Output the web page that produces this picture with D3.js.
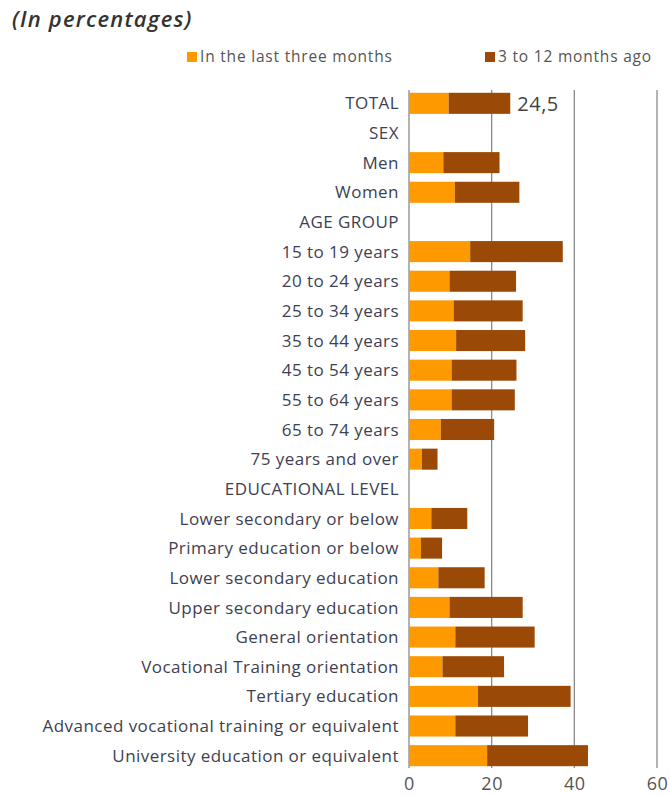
<!DOCTYPE html>
<html>
<head>
<meta charset="utf-8">
<script src="https://cdn.jsdelivr.net/npm/d3@7"></script>
<style>
  html, body { margin: 0; padding: 0; background: #fff; }
  svg { display: block; }
</style>
</head>
<body>
<svg id="chart" width="670" height="796"></svg>
<script>
// Row labels; group headings carry no bars
const categories = [
  "TOTAL", "SEX", "Men", "Women", "AGE GROUP",
  "15 to 19 years", "20 to 24 years", "25 to 34 years", "35 to 44 years",
  "45 to 54 years", "55 to 64 years", "65 to 74 years", "75 years and over",
  "EDUCATIONAL LEVEL", "Lower secondary or below", "Primary education or below",
  "Lower secondary education", "Upper secondary education", "General orientation",
  "Vocational Training orientation", "Tertiary education",
  "Advanced vocational training or equivalent", "University education or equivalent"
];
const lastThreeMonths = [
  9.6, null, 8.3, 11.1, null,
  14.8, 9.8, 10.8, 11.4, 10.3, 10.3, 7.7, 3.1,
  null, 5.4, 2.9, 7.1, 9.8, 11.2, 8.1, 16.7, 11.2, 18.9
];
const threeTo12MonthsAgo = [
  14.9, null, 13.6, 15.6, null,
  22.4, 16.1, 16.7, 16.7, 15.7, 15.3, 12.9, 3.8,
  null, 8.7, 5.1, 11.2, 17.7, 19.2, 14.9, 22.4, 17.6, 24.4
];
const seriesNames = ["In the last three months", "3 to 12 months ago"];
const seriesColors = ["#FF9900", "#9A4A06"];
const xTicks = [0, 20, 40, 60];
const labelledRow = "TOTAL";

const svg = d3.select("#chart");
const font = "'Open Sans', sans-serif";

const x = d3.scaleLinear().domain([0, 60]).range([409, 657]);
const y = d3.scaleBand().domain(categories).range([88.5, 770.5])
  .paddingInner(0.29).paddingOuter(0.145);

// Title
svg.append("text")
  .attr("x", 12).attr("y", 27)
  .attr("font-family", font).attr("font-size", 22)
  .attr("font-style", "italic").attr("font-weight", 600)
  .attr("letter-spacing", 1.2)
  .attr("fill", "#333").text("(In percentages)");

// Legend
const legendX = [187, 485];
seriesNames.forEach((name, i) => {
  svg.append("rect").attr("x", legendX[i]).attr("y", 52)
    .attr("width", 10).attr("height", 10).attr("fill", seriesColors[i]);
  svg.append("text").attr("x", legendX[i] + 13).attr("y", 62)
    .attr("font-family", font).attr("font-size", 15.5)
    .attr("letter-spacing", 0.8)
    .attr("fill", "#555").text(name);
});

// Vertical gridlines
svg.append("g").selectAll("line").data(xTicks).join("line")
  .attr("x1", d => x(d)).attr("x2", d => x(d))
  .attr("y1", 90).attr("y2", 768)
  .attr("stroke", "#8a8a8a").attr("stroke-width", 1.3);

// X axis tick labels
const xAxis = d3.axisBottom(x).tickValues(xTicks).tickSize(0).tickPadding(0);
const gx = svg.append("g").attr("transform", "translate(0,777)").call(xAxis);
gx.select(".domain").remove();
gx.selectAll("text")
  .attr("font-family", font).attr("font-size", 18)
  .attr("letter-spacing", 0.5)
  .attr("fill", "#555").attr("dy", "0.71em");

// Category labels
const yAxis = d3.axisLeft(y).tickSize(0).tickPadding(0);
const gy = svg.append("g").attr("transform", "translate(399,0)").call(yAxis);
gy.select(".domain").remove();
gy.selectAll("text")
  .attr("font-family", font).attr("font-size", 17)
  .attr("letter-spacing", 0.45)
  .attr("dy", "0.36em")
  .attr("fill", "#3e3f52");

// Stacked bars
const rows = categories.map((c, i) => ({
  cat: c, a: lastThreeMonths[i], b: threeTo12MonthsAgo[i]
})).filter(d => d.a != null);

const g = svg.append("g");
g.selectAll("rect.recent").data(rows).join("rect")
  .attr("class", "recent")
  .attr("x", x(0)).attr("y", d => y(d.cat))
  .attr("width", d => x(d.a) - x(0)).attr("height", y.bandwidth())
  .attr("fill", seriesColors[0]);
g.selectAll("rect.earlier").data(rows).join("rect")
  .attr("class", "earlier")
  .attr("x", d => x(d.a)).attr("y", d => y(d.cat))
  .attr("width", d => x(d.a + d.b) - x(d.a)).attr("height", y.bandwidth())
  .attr("fill", seriesColors[1]);

// Total value label
const tot = rows.find(d => d.cat === labelledRow);
const totVal = tot.a + tot.b;
svg.append("text")
  .attr("x", x(totVal) + 7).attr("y", y(labelledRow) + y.bandwidth() / 2)
  .attr("dy", "0.36em")
  .attr("font-family", font).attr("font-size", 20)
  .attr("letter-spacing", 0.5)
  .attr("fill", "#444")
  .text(d3.format(".1f")(totVal).replace(".", ","));
</script>
</body>
</html>
